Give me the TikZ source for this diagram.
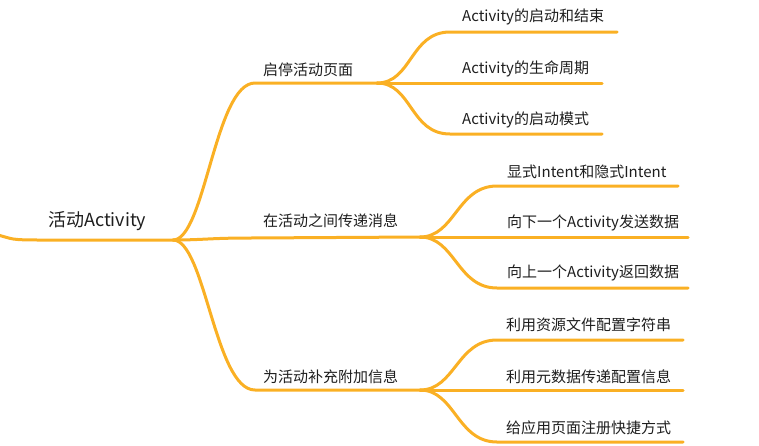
\documentclass[tikz,border=0pt]{standalone}
\usepackage{fontspec}
\setmainfont{Noto Sans CJK SC}
\usetikzlibrary{positioning}
\definecolor{branchOrange}{RGB}{250, 176, 36}
\definecolor{labelGray}{RGB}{30, 30, 30}

\begin{document}
\begin{tikzpicture}[
    x=1pt, y=-1pt,
    every node/.style={inner sep=0pt, text=labelGray},
    rootlabel/.style={anchor=west, font=\fontsize{18}{20}\selectfont},
    topiclabel/.style={anchor=west, font=\fontsize{15}{17}\selectfont},
    leaflabel/.style={anchor=west, font=\fontsize{15}{17}\selectfont},
    branch/.style={draw=branchOrange, line width=3pt, line cap=round},
]
\useasboundingbox (0,0) rectangle (759,445);
\coordinate (rootL) at (-2,235);
\coordinate (J0) at (173,240);
\coordinate (T1s) at (255,83);  \coordinate (J1) at (377,83);
\coordinate (T2s) at (250,238); \coordinate (J2) at (420,237);
\coordinate (T3s) at (255,390); \coordinate (J3) at (420,390);
\coordinate (A1s) at (450,32);  \coordinate (A1e) at (617,32);
\coordinate (A2e) at (602,83);
\coordinate (A3s) at (450,134); \coordinate (A3e) at (602,134);
\coordinate (B1s) at (497,186); \coordinate (B1e) at (678,186);
\coordinate (B2e) at (688,237);
\coordinate (B3s) at (497,288); \coordinate (B3e) at (688,288);
\coordinate (C1s) at (497,340); \coordinate (C1e) at (683,340);
\coordinate (C2e) at (683,390);
\coordinate (C3s) at (497,442); \coordinate (C3e) at (683,442);
\node[rootlabel] (root) at (48,221) {活动Activity};
\node[topiclabel] (T1) at (263,70) {启停活动页面};
\node[topiclabel] (T2) at (263,221) {在活动之间传递消息};
\node[topiclabel] (T3) at (263,377) {为活动补充附加信息};
\node[leaflabel] (A1) at (462,17) {Activity的启动和结束};
\node[leaflabel] (A2) at (462,69) {Activity的生命周期};
\node[leaflabel] (A3) at (462,120) {Activity的启动模式};
\node[leaflabel] (B1) at (507,172) {显式Intent和隐式Intent};
\node[leaflabel] (B2) at (507,223) {向下一个Activity发送数据};
\node[leaflabel] (B3) at (507,273) {向上一个Activity返回数据};
\node[leaflabel] (C1) at (506,325) {利用资源文件配置字符串};
\node[leaflabel] (C2) at (506,377) {利用元数据传递配置信息};
\node[leaflabel] (C3) at (506,428) {给应用页面注册快捷方式};
\draw[branch] (rootL) .. controls +(15,4) and +(-30,0) .. (40,240) -- (J0);
\draw[branch] (J0) .. controls +(32,0) and +(-40,0) .. (T1s) -- (J1);
\draw[branch] (J0) .. controls +(30,0) and +(-40,0) .. (T2s) -- (J2);
\draw[branch] (J0) .. controls +(32,0) and +(-40,0) .. (T3s) -- (J3);
\draw[branch] (J1) .. controls +(35,0) and +(-40,0) .. (A1s) -- (A1e);
\draw[branch] (J1) -- (A2e);
\draw[branch] (J1) .. controls +(35,0) and +(-40,0) .. (A3s) -- (A3e);
\draw[branch] (J2) .. controls +(35,0) and +(-40,0) .. (B1s) -- (B1e);
\draw[branch] (J2) -- (B2e);
\draw[branch] (J2) .. controls +(35,0) and +(-40,0) .. (B3s) -- (B3e);
\draw[branch] (J3) .. controls +(35,0) and +(-40,0) .. (C1s) -- (C1e);
\draw[branch] (J3) -- (C2e);
\draw[branch] (J3) .. controls +(35,0) and +(-40,0) .. (C3s) -- (C3e);
\end{tikzpicture}
\end{document}
